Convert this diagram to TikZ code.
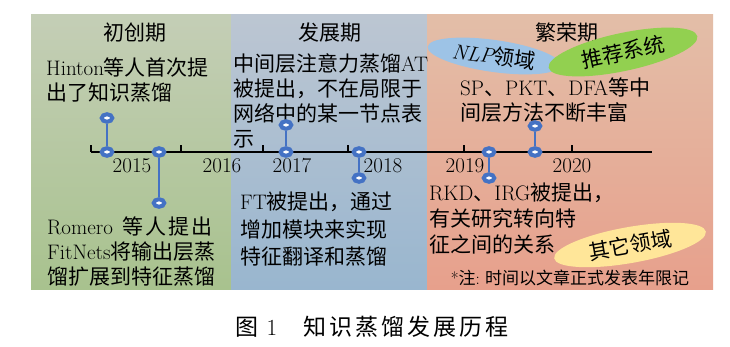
\documentclass[tikz,border=0pt]{standalone}
\usepackage{fontspec}
\newfontfamily\cjk{Noto Sans CJK SC}
\usepackage{xcolor}
\usepackage{tikz}
\usetikzlibrary{shapes.geometric,positioning}
\definecolor{verdearr}{RGB}{196,206,182}
\definecolor{verdeab}{RGB}{168,194,142}
\definecolor{azularr}{RGB}{188,198,210}
\definecolor{azulab}{RGB}{153,182,207}
\definecolor{rosaarr}{RGB}{227,190,168}
\definecolor{rosaab}{RGB}{231,160,140}
\definecolor{azulpt}{RGB}{68,114,196}
\definecolor{nlpazul}{RGB}{157,195,230}
\definecolor{recverde}{RGB}{146,208,80}
\definecolor{otroamar}{RGB}{255,230,153}
\newcommand\en[1]{{\rmfamily #1}}
\tikzset{
  punto/.style={ellipse,draw=azulpt,line width=4pt,fill=white,inner sep=0pt,minimum width=10.5pt,minimum height=7.5pt},
  hilo/.style={azulpt,line width=1.8pt},
  eje/.style={black,line width=1.6pt},
  texto/.style={anchor=north west,align=left,inner sep=0pt,font=\cjk\fontsize{21}{25}\selectfont},
  titulo/.style={inner sep=0pt,font=\cjk\fontsize{21}{25}\selectfont},
  anio/.style={inner sep=0pt,font=\fontsize{21}{25}\selectfont},
  nube/.style={ellipse,inner sep=0pt,font=\cjk\fontsize{21}{25}\selectfont}
}

\begin{document}
\begin{tikzpicture}[x=1pt,y=-1pt]
\useasboundingbox (0,0) rectangle (730,347);
\fill[white] (0,0) rectangle (730,347);
\shade[top color=verdearr,bottom color=verdeab] (31,15) rectangle (231,289);
\shade[top color=azularr,bottom color=azulab] (231,15) rectangle (427,289);
\shade[top color=rosaarr,bottom color=rosaab] (427,15) rectangle (713,289);
\node[titulo] (t1) at (135,33) {初创期};
\node[titulo] (t2) at (330,33) {发展期};
\node[titulo] (t3) at (567,33) {繁荣期};
\node[nube,fill=nlpazul,rotate=-8,minimum width=134pt,minimum height=32pt] (nlp) at (494,56) {\en{\itshape NLP}领域};
\node[nube,fill=recverde,rotate=12,minimum width=152pt,minimum height=38pt] (rec) at (623,52) {推荐系统};
\node[nube,fill=otroamar,rotate=10,minimum width=154pt,minimum height=36pt] (otro) at (630,245) {其它领域};
\node[texto] (hinton) at (46,58) {\en{Hinton}等人首次提\\出了知识蒸馏};
\node[texto] (romero) at (47,217) {\en{Romero}\hspace{10pt}等\hspace{2pt}人\hspace{2pt}提\hspace{2pt}出\\\en{FitNets}将输出层蒸\\馏扩展到特征蒸馏};
\node[texto] (at) at (233,53) {中间层注意力蒸馏\en{AT}\\被提出，不在局限于\\网络中的某一节点表\\示};
\node[texto] (ft) at (240,192) {\en{FT}被提出，通过\\[2.5pt]增加模块来实现\\[2.5pt]特征翻译和蒸馏};
\node[texto] (sp) at (460,78) {\en{SP}、\en{PKT}、\en{DFA}等中\\间层方法不断丰富};
\node[texto] (rkd) at (429,183) {\en{RKD}、\en{IRG}被提出，\\[1pt]有关研究转向特\\[1pt]征之间的关系};
\node[titulo,font=\cjk\fontsize{17}{20}\selectfont] (nota) at (570,278) {\en{*}注\en{:} 时间以文章正式发表年限记};
\coordinate (ini) at (91,152);
\coordinate (fin) at (652,152);
\draw[eje] (ini) -- (fin);
\foreach \x in {91,181,263,348,464,572} \draw[eje] (\x,152) -- (\x,145);
\node[anio] (a15) at (132,166) {2015};
\node[anio] (a16) at (222,166) {2016};
\node[anio] (a17) at (292,166) {2017};
\node[anio] (a18) at (383,166) {2018};
\node[anio] (a19) at (465,166) {2019};
\node[anio] (a20) at (572,166) {2020};
\node[punto] (h1) at (107,118) {};
\node[punto] (h0) at (107,152) {};
\node[punto] (r0) at (159,152) {};
\node[punto] (r1) at (159,203) {};
\node[punto] (at1) at (286,125) {};
\node[punto] (at0) at (286,152) {};
\node[punto] (ft0) at (359,152) {};
\node[punto] (ft1) at (359,178) {};
\node[punto] (rk0) at (489,152) {};
\node[punto] (rk1) at (489,178) {};
\node[punto] (sp1) at (535,126) {};
\node[punto] (sp0) at (535,152) {};
\draw[hilo] (h0) -- (h1);
\draw[hilo] (r0) -- (r1);
\draw[hilo] (at0) -- (at1);
\draw[hilo] (ft0) -- (ft1);
\draw[hilo] (rk0) -- (rk1);
\draw[hilo] (sp0) -- (sp1);
\node[titulo,font=\cjk\fontsize{23}{26}\selectfont] (cap) at (372,327) {图\hspace{8pt}\en{1}\hspace{26pt}知\hspace{3pt}识\hspace{3pt}蒸\hspace{3pt}馏\hspace{3pt}发\hspace{3pt}展\hspace{3pt}历\hspace{3pt}程};
\end{tikzpicture}
\end{document}
